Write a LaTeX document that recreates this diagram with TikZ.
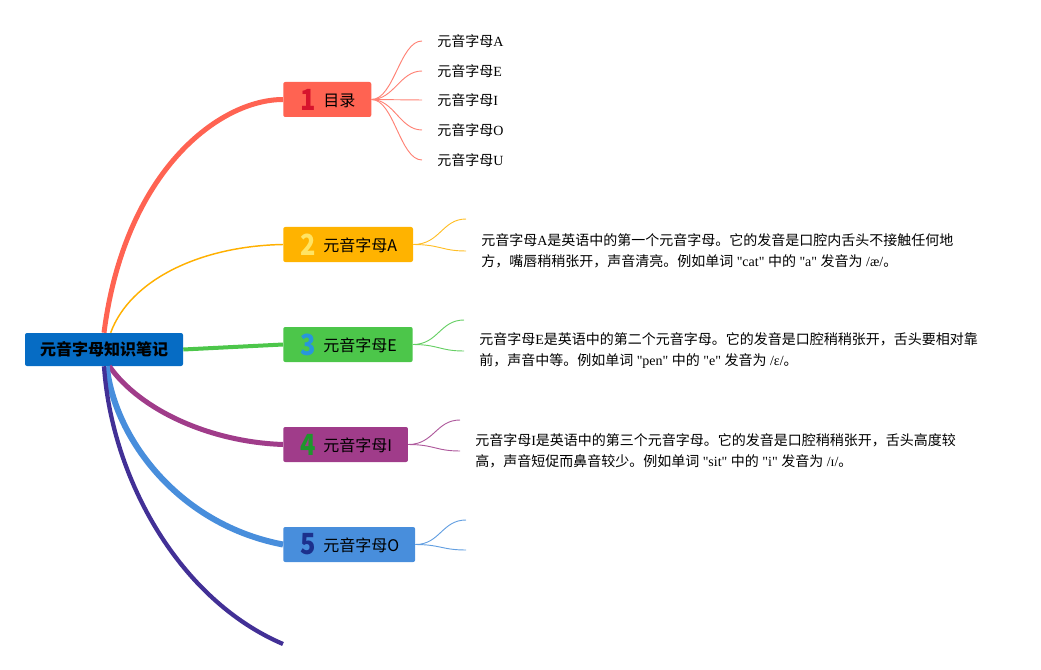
\documentclass[tikz,border=0pt]{standalone}
\usepackage{fontspec}
\usepackage{xcolor}
\setmainfont{Liberation Serif}[Ligatures=TeXOff]
\newfontfamily\zhfont{Noto Sans CJK SC}

% switch to the CJK font for Chinese characters
\XeTeXinterchartokenstate=1
\newXeTeXintercharclass\zhclass
\newcount\zhc
\zhc="4E00 \loop \XeTeXcharclass\zhc=\zhclass \advance\zhc by 1 \ifnum\zhc<"A000 \repeat
\zhc="3000 \loop \XeTeXcharclass\zhc=\zhclass \advance\zhc by 1 \ifnum\zhc<"3040 \repeat
\zhc="FF00 \loop \XeTeXcharclass\zhc=\zhclass \advance\zhc by 1 \ifnum\zhc<"FFF0 \repeat
\def\latinfont{\rmfamily}
\XeTeXinterchartoks 0 \zhclass = {\zhfont}
\XeTeXinterchartoks 4095 \zhclass = {\zhfont}
\XeTeXinterchartoks \zhclass 0 = {\latinfont}
\XeTeXinterchartoks \zhclass 4095 = {\latinfont}

\definecolor{rootblue}{RGB}{6,108,196}
\definecolor{tomato}{RGB}{255,99,82}
\definecolor{amber}{RGB}{255,179,0}
\definecolor{leafgreen}{RGB}{76,198,74}
\definecolor{plum}{RGB}{160,60,138}
\definecolor{skyblue}{RGB}{72,142,220}
\definecolor{indigo}{RGB}{66,48,150}
\definecolor{numred}{RGB}{215,20,45}
\definecolor{numyellow}{RGB}{255,228,100}
\definecolor{numblue}{RGB}{40,150,220}
\definecolor{numgreen}{RGB}{30,150,45}
\definecolor{numnavy}{RGB}{28,48,140}

\newcommand\bignum[2]{\makebox[13pt]{\raisebox{-2.5pt}{\textcolor{#1}{\bfseries\fontsize{19}{19}\selectfont\scalebox{1}[1.15]{#2}}}}\hspace{5pt}}

\tikzset{
  rootbox/.style={fill=rootblue, rounded corners=1.5pt, minimum width=118.5pt, minimum height=24.75pt, inner sep=0pt,
    font={\zhfont\bfseries\let\latinfont\zhfont\fontsize{12}{14}\selectfont}},
  topicbox/.style={fill=#1, rounded corners=1.5pt, anchor=west, minimum height=26.25pt, inner xsep=12pt, inner ysep=0pt,
    font={\zhfont\let\latinfont\zhfont\fontsize{12}{14}\selectfont}},
  leaf/.style={anchor=west, inner xsep=11.25pt, inner ysep=1pt, font=\fontsize{10.5}{12}\selectfont},
  note/.style={anchor=west, align=left, inner xsep=11.25pt, inner ysep=1pt, font=\fontsize{10.5}{15.75}\selectfont},
  twig/.style={draw=#1, line width=0.7pt}
}

\begin{document}
\begin{tikzpicture}[x=0.75pt,y=0.75pt,yscale=-1]
        \useasboundingbox (0,0) rectangle (1041,670);

        % Root Node
        \node (root) [rootbox] at (104,349.5) {元音字母知识笔记};

        % Topic Nodes
        \node (t1) [topicbox=tomato] at (283,99.5) {\bignum{numred}{1}目录};
        \node (t2) [topicbox=amber] at (283,244.5) {\bignum{numyellow}{2}元音字母A};
        \node (t3) [topicbox=leafgreen] at (283,344.5) {\bignum{numblue}{3}元音字母E};
        \node (t4) [topicbox=plum] at (283,444.5) {\bignum{numgreen}{4}元音字母I};
        \node (t5) [topicbox=skyblue] at (283,544.5) {\bignum{numnavy}{5}元音字母O};
        \coordinate (t6) at (283,644);

        % Main branches
        \draw [tomato, line width=3.75pt] (root.north) .. controls (125,170) and (220,99.5) .. (t1.west);
        \draw [amber!95!orange, line width=1.1pt] ([xshift=5pt]root.north) .. controls (130,280) and (200,246) .. (t2.west);
        \draw [leafgreen, line width=3pt] (root.east) -- (t3.west);
        \draw [plum, line width=3.75pt] ([xshift=4pt]root.south) .. controls (140,410) and (210,442) .. (t4.west);
        \draw [skyblue, line width=4.5pt] ([xshift=2pt]root.south) .. controls (115,440) and (180,525) .. (t5.west);
        \draw [indigo, line width=3.2pt] (root.south) .. controls (112,480) and (180,600) .. (t6);

        % Text Node
        \node (l1) [leaf] at (422,41) {元音字母A};
        \node (l2) [leaf] at (422,71) {元音字母E};
        \node (l3) [leaf] at (422,100) {元音字母I};
        \node (l4) [leaf] at (422,130) {元音字母O};
        \node (l5) [leaf] at (422,160) {元音字母U};

        \draw [twig=tomato!80] (t1.east) .. controls (394,99.5) and (400,41) .. (l1.west);
        \draw [twig=tomato!80] (t1.east) .. controls (394,99.5) and (400,71) .. (l2.west);
        \draw [twig=tomato!80] (t1.east) -- (l3.west);
        \draw [twig=tomato!80] (t1.east) .. controls (394,99.5) and (400,130) .. (l4.west);
        \draw [twig=tomato!80] (t1.east) .. controls (394,99.5) and (400,160) .. (l5.west);

        % Text Node
        \coordinate (c2) at (466,219);
        \node (n2) [note] at (466,251) {元音字母A是英语中的第一个元音字母。它的发音是口腔内舌头不接触任何地\\方，嘴唇稍稍张开，声音清亮。例如单词 "cat" 中的 "a" 发音为 /æ/。};
        \draw [twig=amber!85] (t2.east) .. controls (440,244.5) and (442,219) .. (c2);
        \draw [twig=amber!85] (t2.east) .. controls (440,244.5) and (442,251) .. (n2.west);

        % Text Node
        \coordinate (c3) at (464,320);
        \node (n3) [note] at (464,351) {元音字母E是英语中的第二个元音字母。它的发音是口腔稍稍张开，舌头要相对靠\\前，声音中等。例如单词 "pen" 中的 "e" 发音为 /ɛ/。};
        \draw [twig=leafgreen!85] (t3.east) .. controls (438,344.5) and (440,320) .. (c3);
        \draw [twig=leafgreen!85] (t3.east) .. controls (438,344.5) and (440,351) .. (n3.west);

        % Text Node
        \coordinate (c4) at (460,420);
        \node (n4) [note] at (460,451) {元音字母I是英语中的第三个元音字母。它的发音是口腔稍稍张开，舌头高度较\\高，声音短促而鼻音较少。例如单词 "sit" 中的 "i" 发音为 /ɪ/。};
        \draw [twig=plum!85] (t4.east) .. controls (434,444.5) and (436,420) .. (c4);
        \draw [twig=plum!85] (t4.east) .. controls (434,444.5) and (436,451) .. (n4.west);

        % Empty branches
        \coordinate (c5a) at (466,520);
        \coordinate (c5b) at (466,550);
        \draw [twig=skyblue!85] (t5.east) .. controls (440,544.5) and (442,520) .. (c5a);
        \draw [twig=skyblue!85] (t5.east) .. controls (440,544.5) and (442,550) .. (c5b);

\end{tikzpicture}
\end{document}
